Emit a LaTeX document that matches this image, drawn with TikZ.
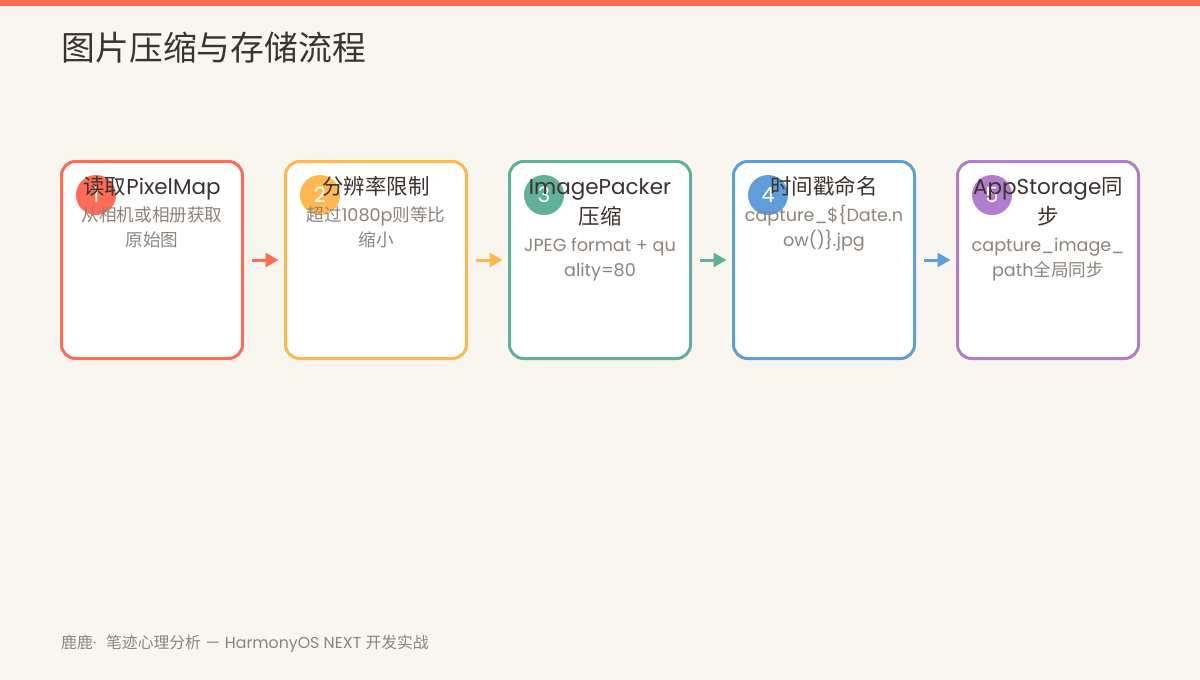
\documentclass[tikz,border=0pt]{standalone}
\usepackage{fontspec}
\setmainfont{Poppins}
\newfontfamily\cjkfont{Noto Sans CJK SC}
\usetikzlibrary{arrows.meta}
\definecolor{bg}{HTML}{F9F6F0}
\definecolor{topbar}{HTML}{FF6B52}
\definecolor{ink}{HTML}{3B3330}
\definecolor{sub}{HTML}{8C847D}
\definecolor{cA}{HTML}{FF6B55}
\definecolor{cB}{HTML}{FFB84F}
\definecolor{cC}{HTML}{60B09A}
\definecolor{cD}{HTML}{5E9EDB}
\definecolor{cE}{HTML}{B07ECA}
\newcommand\zh[1]{{\cjkfont #1}}
\begin{document}
\begin{tikzpicture}[x=1pt,y=-1pt,
  stepbox/.style={draw=#1, line width=3pt, fill=white, rounded corners=14pt,
    minimum width=181pt, minimum height=197pt, inner sep=0pt},
  badge/.style={circle, fill=#1, minimum size=40pt, inner sep=0pt, text=white,
    font=\fontsize{21}{24}\selectfont},
  ttl/.style={anchor=base, inner sep=0pt, text=ink, font=\fontsize{21.5}{24}\selectfont},
  dsc/.style={anchor=base, inner sep=0pt, text=sub, font=\fontsize{17.6}{20}\selectfont},
  flow/.style={draw=#1, line width=3pt, -{Triangle[length=13pt,width=14pt]},
    shorten <=7.5pt, shorten >=5.5pt}
]
\useasboundingbox (0,0) rectangle (1200,680);
\fill[bg] (0,0) rectangle (1200,680);
\fill[topbar] (0,0) rectangle (1200,6);

\node[anchor=base west, inner sep=0pt, text=ink, font=\cjkfont\fontsize{33.8}{38}\selectfont]
  (title) at (61.5,60.5) {图片压缩与存储流程};

% boxes
\node[stepbox=cA] (b1) at (152,260) {};
\node[stepbox=cB] (b2) at (376,260) {};
\node[stepbox=cC] (b3) at (600,260) {};
\node[stepbox=cD] (b4) at (824,260) {};
\node[stepbox=cE] (b5) at (1048,260) {};

% connectors
\draw[flow=cA] (b1.east) -- (b2.west);
\draw[flow=cB] (b2.east) -- (b3.west);
\draw[flow=cC] (b3.east) -- (b4.west);
\draw[flow=cD] (b4.east) -- (b5.west);

% badges
\node[badge=cA] (n1) at (96,195) {1};
\node[badge=cB] (n2) at (320,195) {2};
\node[badge=cC] (n3) at (544,195) {3};
\node[badge=cD] (n4) at (768,195) {4};
\node[badge=cE] (n5) at (992,195) {5};

% box 1
\node[ttl] (t1) at (152,194) {\zh{读取}PixelMap};
\node[dsc] (d1a) at (152,221.5) {\zh{从相机或相册获取}};
\node[dsc] (d1b) at (152,246.5) {\zh{原始图}};
% box 2
\node[ttl] (t2) at (376,194) {\zh{分辨率限制}};
\node[dsc] (d2a) at (376,221.5) {\zh{超过}1080p\zh{则等比}};
\node[dsc] (d2b) at (376,246.5) {\zh{缩小}};
% box 3
\node[ttl] (t3a) at (600,194) {ImagePacker};
\node[ttl] (t3b) at (600,224) {\zh{压缩}};
\node[dsc] (d3a) at (600,251.5) {JPEG format + qu};
\node[dsc] (d3b) at (600,276.5) {ality=80};
% box 4
\node[ttl] (t4) at (824,194) {\zh{时间戳命名}};
\node[dsc] (d4a) at (824,221.5) {capture\_\$\{Date.n};
\node[dsc] (d4b) at (824,246.5) {ow()\}.jpg};
% box 5
\node[ttl] (t5a) at (1048,194) {AppStorage\zh{同}};
\node[ttl] (t5b) at (1048,224) {\zh{步}};
\node[dsc] (d5a) at (1048,251.5) {capture\_image\_};
\node[dsc] (d5b) at (1048,276.5) {path\zh{全局同步}};

% footer
\node[anchor=base west, inner sep=0pt, text=sub, font=\fontsize{15.8}{18}\selectfont]
  (foot) at (61,648) {\zh{鹿鹿}·\hspace{10pt}\zh{笔迹心理分析}\hspace{5pt}—\hspace{5pt}HarmonyOS NEXT \zh{开发实战}};
\end{tikzpicture}
\end{document}
